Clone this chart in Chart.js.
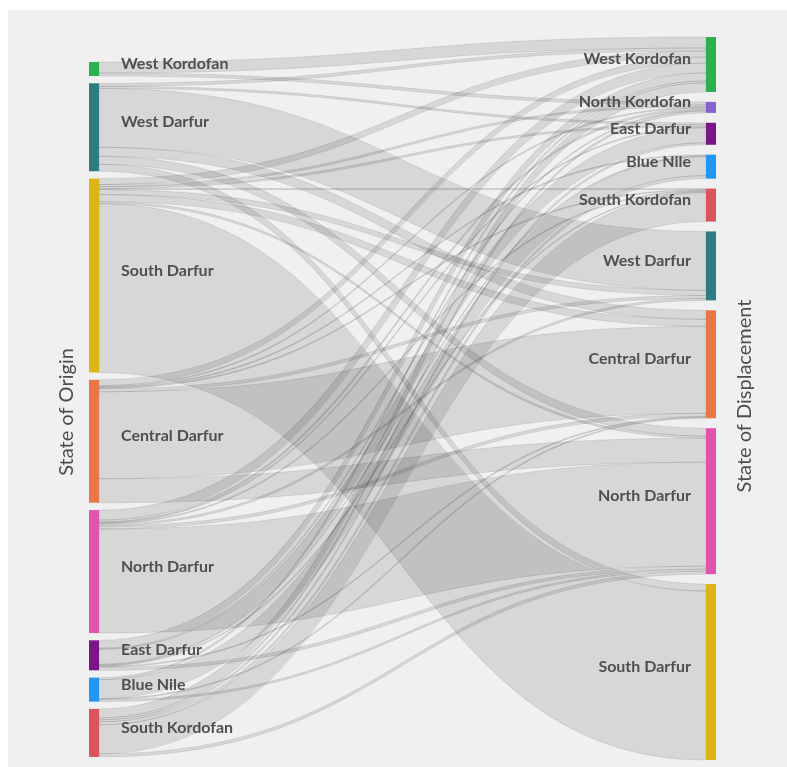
<!DOCTYPE html>
<html>
<head>
<meta charset="utf-8">
<script src="https://cdn.jsdelivr.net/npm/chart.js@4.4.1/dist/chart.umd.min.js"></script>
<style>
  html, body { margin: 0; padding: 0; background: #fff; }
  #wrap { width: 787px; height: 767px; }
</style>
</head>
<body>
<div id="wrap"><canvas id="sankey" width="787" height="767"></canvas></div>
<script>
// left column, top to bottom
const originStates = ['West Kordofan', 'West Darfur', 'South Darfur', 'Central Darfur', 'North Darfur', 'East Darfur', 'Blue Nile', 'South Kordofan'];
// right column, top to bottom
const displacementStates = ['West Kordofan', 'North Kordofan', 'East Darfur', 'Blue Nile', 'South Kordofan', 'West Darfur', 'Central Darfur', 'North Darfur', 'South Darfur'];

// one row per state of origin, one column per state of displacement (thousands)
const flows = [
  [11, 3, 0, 0, 0, 0, 0, 0, 0],        // West Kordofan
  [3, 0, 2, 0, 0, 59, 9, 8, 7],        // West Darfur
  [6, 2, 2, 0, 1, 5, 7, 2, 169],       // South Darfur
  [6, 1, 0, 1, 1, 3, 87, 24, 0],       // Central Darfur
  [10, 2, 1, 0, 1, 2, 3, 104, 0],      // North Darfur
  [8, 1, 15, 1, 1, 0, 1, 3, 0],        // East Darfur
  [2, 0, 0, 19, 0, 0, 1, 2, 0],        // Blue Nile
  [9, 2, 2, 3, 29, 0, 0, 3, 0]         // South Kordofan
];

const stateColors = {
  'West Kordofan': '#2db04f',
  'North Kordofan': '#8461cb',
  'West Darfur': '#2e7d80',
  'South Darfur': '#dcb416',
  'Central Darfur': '#e8784a',
  'North Darfur': '#e054ae',
  'East Darfur': '#7a1688',
  'Blue Nile': '#2196f5',
  'South Kordofan': '#d9545b'
};

const nodeWidth = 10;
const columnPad = [7.3, 9.9];   // gap between nodes, in value units
const leftShift = 25;           // left column starts a bit lower

const originTotals = flows.map(row => row.reduce((a, b) => a + b, 0));
const displacementTotals = displacementStates.map((s, j) => flows.reduce((a, row) => a + row[j], 0));
const grandTotal = originTotals.reduce((a, b) => a + b, 0);
const yMax = grandTotal + (displacementStates.length - 1) * columnPad[1];

function stackColumn(totals, pad, start) {
  let y = start;
  return totals.map(v => {
    const n = { y0: y, y1: y + v };
    y += v + pad;
    return n;
  });
}

const panelPlugin = {
  id: 'panel',
  beforeDraw(chart) {
    const c = chart.ctx;
    c.save();
    c.fillStyle = '#f0f0f0';
    c.fillRect(8, 10, chart.width - 8, chart.height - 10);
    c.restore();
  }
};

const sankeyPlugin = {
  id: 'sankey',
  afterDatasetsDraw(chart) {
    const c = chart.ctx;
    const xs = chart.scales.x, ys = chart.scales.y;
    const left = stackColumn(originTotals, columnPad[0], leftShift);
    const right = stackColumn(displacementTotals, columnPad[1], 0);

    // link offsets at both ends
    const links = [];
    const srcOff = left.map(n => n.y0);
    const dstOff = right.map(n => n.y0);
    flows.forEach((row, i) => row.forEach((v, j) => {
      if (!v) return;
      links.push({ i, j, v, s0: srcOff[i], t0: 0 });
      srcOff[i] += v;
    }));
    for (let j = 0; j < displacementStates.length; j++) {
      links.filter(l => l.j === j).sort((a, b) => a.i - b.i).forEach(l => {
        l.t0 = dstOff[j];
        dstOff[j] += l.v;
      });
    }

    const x0 = xs.getPixelForValue(0) + nodeWidth;
    const x1 = xs.getPixelForValue(1) - nodeWidth;
    const xm = (x0 + x1) / 2;
    c.save();
    links.forEach(l => {
      const a0 = ys.getPixelForValue(l.s0), a1 = ys.getPixelForValue(l.s0 + l.v);
      const b0 = ys.getPixelForValue(l.t0), b1 = ys.getPixelForValue(l.t0 + l.v);
      c.beginPath();
      c.moveTo(x0, a0);
      c.bezierCurveTo(xm, a0, xm, b0, x1, b0);
      c.lineTo(x1, b1);
      c.bezierCurveTo(xm, b1, xm, a1, x0, a1);
      c.closePath();
      c.fillStyle = 'rgba(0,0,0,0.1)';
      c.fill();
      c.lineWidth = 1;
      c.strokeStyle = 'rgba(0,0,0,0.09)';
      c.stroke();
    });

    // nodes
    left.forEach((n, i) => {
      c.fillStyle = stateColors[originStates[i]];
      c.fillRect(x0 - nodeWidth, ys.getPixelForValue(n.y0), nodeWidth, ys.getPixelForValue(n.y1) - ys.getPixelForValue(n.y0));
    });
    right.forEach((n, j) => {
      c.fillStyle = stateColors[displacementStates[j]];
      c.fillRect(x1, ys.getPixelForValue(n.y0), nodeWidth, ys.getPixelForValue(n.y1) - ys.getPixelForValue(n.y0));
    });

    // node labels, baseline on the node centre
    c.font = 'bold 16px Lato';
    c.fillStyle = '#4f4f4f';
    c.textBaseline = 'alphabetic';
    c.textAlign = 'left';
    left.forEach((n, i) => {
      c.fillText(originStates[i], x0 + 22, ys.getPixelForValue((n.y0 + n.y1) / 2));
    });
    c.textAlign = 'right';
    right.forEach((n, j) => {
      c.fillText(displacementStates[j], x1 - 15, ys.getPixelForValue((n.y0 + n.y1) / 2));
    });

    // column titles
    c.font = '20px Lato';
    c.fillStyle = '#4d4d4d';
    c.textAlign = 'center';
    c.textBaseline = 'middle';
    [['State of Origin', 67, 412], ['State of Displacement', 745, 396]].forEach(([t, tx, ty]) => {
      c.save();
      c.translate(tx, ty);
      c.rotate(-Math.PI / 2);
      c.fillText(t, 0, 0);
      c.restore();
    });
    c.restore();
  }
};

new Chart(document.getElementById('sankey'), {
  type: 'scatter',
  data: { datasets: [] },
  options: {
    responsive: false,
    animation: false,
    devicePixelRatio: 1,
    layout: { padding: { left: 89, right: 71, top: 37, bottom: 7 } },
    scales: {
      x: { type: 'linear', min: 0, max: 1, display: false },
      y: { type: 'linear', min: 0, max: yMax, reverse: true, display: false }
    },
    plugins: {
      legend: { display: false },
      tooltip: { enabled: false }
    }
  },
  plugins: [panelPlugin, sankeyPlugin]
});
</script>
</body>
</html>
